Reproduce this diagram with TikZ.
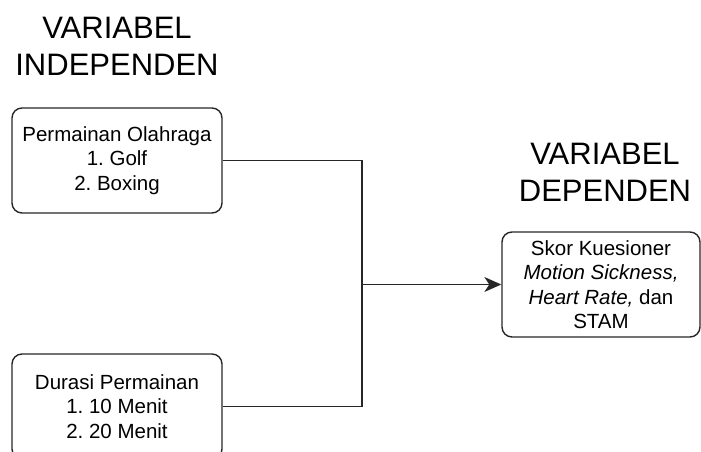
\documentclass[tikz,border=0pt]{standalone}
\usepackage{fontspec}
\setmainfont{Liberation Sans}
\usetikzlibrary{arrows.meta}
\frenchspacing
\tikzset{
  title/.style={align=center, inner sep=0pt, font=\fontsize{31}{37}\selectfont},
  varbox/.style={draw=black!85, line width=1.4pt, rounded corners=10pt, align=center,
    inner sep=0pt, minimum height=105pt, font=\fontsize{20.5}{24.5}\selectfont},
  link/.style={draw=black!85, line width=1.4pt},
  arrowlink/.style={link, -{Stealth[length=17pt, width=15pt, inset=5pt]}},
}
\begin{document}
\begin{tikzpicture}[x=1pt,y=-1pt]
\useasboundingbox (0,0) rectangle (701,452);
\clip (0,0) rectangle (701,452);
\node[title] (t1) at (117,46) {VARIABEL\\INDEPENDEN};
\node[title] (t2) at (605,172) {VARIABEL\\DEPENDEN};
\node[varbox, minimum width=210pt] (b1) at (117,160.5) {Permainan Olahraga\\1. Golf\\2. Boxing};
\node[varbox, minimum width=210pt] (b2) at (117,406.5) {Durasi Permainan\\1. 10 Menit\\2. 20 Menit};
\node[varbox, minimum width=198pt] (b3) at (601,284.5) {Skor Kuesioner\\\textit{Motion Sickness,}\\\textit{Heart Rate,} dan\\STAM};
\coordinate (j) at (362,284.5);
\draw[link] (b1.east) -| (j);
\draw[link] (b2.east) -| (j);
\draw[arrowlink] (j) -- (b3.west);
\end{tikzpicture}
\end{document}
